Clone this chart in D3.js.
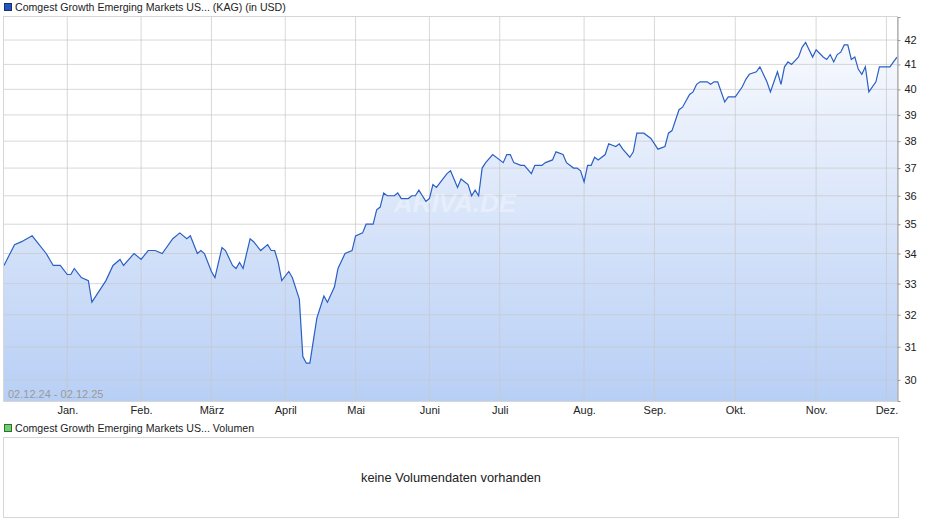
<!DOCTYPE html>
<html>
<head>
<meta charset="utf-8">
<script src="https://cdn.jsdelivr.net/npm/d3@7"></script>
<style>
  body { margin: 0; background: #fff; font-family: "Liberation Sans", Arial, sans-serif; }
  svg text { font-family: "Liberation Sans", Arial, sans-serif; }
</style>
</head>
<body>
<svg id="chart" width="940" height="526"></svg>
<script>
// trading-day index and price (USD)
const days = [0,3,5,8,12,14,16,18,19,20,22,24,25,29,31,33,34,37,39,41,43,45,48,50,52,53,55,56,57,59,60,62,63,65,66,67,68,70,71,73,75,76,77,78,79,81,82,84,85,86,87,88,89,91,92,94,95,97,99,100,102,103,105,106,107,108,109,111,112,113,115,116,117,118,120,121,122,123,126,127,128,129,130,132,133,134,135,136,137,139,142,143,144,145,147,148,150,151,152,153,154,156,157,159,160,162,163,164,165,166,167,168,169,171,172,174,175,176,178,179,180,181,182,184,186,188,189,190,192,193,195,196,197,198,200,201,202,203,205,206,208,210,211,212,214,215,216,217,218,219,220,221,222,223,224,226,227,228,230,231,233,234,235,236,237,238,239,240,241,242,243,244,245,246,248,249,252,253,254];
const prices = [33.6,34.3,34.4,34.6,34.0,33.6,33.6,33.3,33.3,33.5,33.2,33.1,32.4,33.1,33.6,33.8,33.6,34.0,33.8,34.1,34.1,34.0,34.5,34.7,34.5,34.6,34.0,34.1,34.0,33.4,33.2,34.2,34.1,33.6,33.5,33.7,33.5,34.5,34.4,34.1,34.3,34.1,34.1,33.7,33.1,33.4,33.2,32.5,30.7,30.5,30.5,31.2,31.9,32.6,32.4,32.9,33.5,34.0,34.1,34.6,34.7,35.0,35.0,35.5,35.6,36.1,36.0,36.0,36.1,35.9,35.9,36.0,36.0,36.2,35.8,35.9,36.4,36.3,36.8,36.9,36.6,36.3,36.6,36.4,36.0,36.2,36.0,37.0,37.2,37.5,37.2,37.5,37.5,37.2,37.1,37.1,36.8,37.1,37.1,37.1,37.2,37.3,37.6,37.5,37.2,37.0,37.0,36.9,36.5,37.1,37.1,37.4,37.3,37.5,37.9,37.8,37.9,37.7,37.4,37.6,38.3,38.3,38.3,38.1,37.7,37.8,38.3,38.4,39.2,39.3,39.8,39.9,40.2,40.3,40.3,40.2,40.3,40.3,39.5,39.7,39.7,40.1,40.4,40.6,40.7,40.9,40.6,40.3,39.9,40.3,40.7,40.2,40.9,41.1,41.0,41.3,41.7,41.9,41.3,41.6,41.3,41.2,41.4,41.1,41.4,41.5,41.8,41.8,41.2,41.3,40.8,40.6,40.9,39.9,40.3,40.9,40.9,41.1,41.3];
const yTicks = [30,31,32,33,34,35,36,37,38,39,40,41,42];
const monthLabels = ["Jan.","Feb.","März","April","Mai","Juni","Juli","Aug.","Sep.","Okt.","Nov.","Dez."];
const monthDays = [18,39,59,80,100,121,141,165,185,208,231,251];

const svg = d3.select("#chart");
const pLeft = 4, pRight = 897, pTop = 17, pBottom = 401;

const x = d3.scaleLinear().domain([0, 254]).range([pLeft, pRight]);
const y = d3.scaleLog().domain([29.38, 42.97]).range([pBottom, pTop]);

const n = Math.min(days.length, prices.length);
const data = days.slice(0, n).map((d, i) => ({ d: d, v: prices[i] }));

// gradient for area
const grad = svg.append("defs").append("linearGradient")
    .attr("id", "fill").attr("x1", 0).attr("y1", 0).attr("x2", 0).attr("y2", 1);
grad.append("stop").attr("offset", "0%").attr("stop-color", "#f7f9fe");
grad.append("stop").attr("offset", "100%").attr("stop-color", "#b8cff5");

// legend
svg.append("rect").attr("x", 4.5).attr("y", 3.5).attr("width", 7).attr("height", 7)
    .attr("fill", "#1f56c4").attr("stroke", "#1a2f66");
svg.append("text").attr("x", 15).attr("y", 11).attr("font-size", 10.6).attr("fill", "#222")
    .text("Comgest Growth Emerging Markets US... (KAG) (in USD)");

// area
const area = d3.area().x(d => x(d.d)).y0(pBottom).y1(d => y(d.v));
svg.append("path").datum(data).attr("d", area).attr("fill", "url(#fill)");

// grid
svg.append("g").selectAll("line").data(yTicks).join("line")
    .attr("x1", pLeft).attr("x2", pRight).attr("y1", d => y(d)).attr("y2", d => y(d))
    .attr("stroke", "#c8c8c8").attr("stroke-opacity", 0.7);
svg.append("g").selectAll("line").data(monthDays).join("line")
    .attr("x1", d => x(d)).attr("x2", d => x(d)).attr("y1", pTop).attr("y2", pBottom)
    .attr("stroke", "#c8c8c8").attr("stroke-opacity", 0.7);

// watermark
svg.append("text").attr("x", 455).attr("y", 212).attr("text-anchor", "middle")
    .attr("font-size", 26).attr("font-weight", "bold").attr("font-style", "italic")
    .attr("fill", "#ffffff").attr("fill-opacity", 0.35).text("ARIVA.DE");

const line = d3.line().x(d => x(d.d)).y(d => y(d.v));
svg.append("path").datum(data).attr("d", line).attr("fill", "none")
    .attr("stroke", "#2a5fc4").attr("stroke-width", 1.2);

// frame
svg.append("rect").attr("x", pLeft - 0.5).attr("y", pTop - 0.5)
    .attr("width", pRight - pLeft + 1).attr("height", pBottom - pTop + 1)
    .attr("fill", "none").attr("stroke", "#d6d6d6");

// y axis on the right
const yAxis = svg.append("g").attr("transform", `translate(${pRight + 0.5},0)`)
    .call(d3.axisRight(y).tickValues(yTicks).tickFormat(d3.format("d")).tickSize(3).tickPadding(4));
yAxis.select(".domain").attr("stroke", "#999");
yAxis.selectAll("line").attr("stroke", "#999");
yAxis.selectAll("text").attr("font-size", 11).attr("fill", "#222");

// x axis
const xAxis = svg.append("g").attr("transform", `translate(0,${pBottom})`)
    .call(d3.axisBottom(x).tickValues(monthDays).tickFormat((d, i) => monthLabels[i]).tickSize(0).tickPadding(5));
xAxis.select(".domain").remove();
xAxis.selectAll("text").attr("font-size", 11).attr("fill", "#222");

svg.append("text").attr("x", 8).attr("y", 398).attr("font-size", 11).attr("fill", "#9a9a9a")
    .text("02.12.24 - 02.12.25");

// volume panel
svg.append("rect").attr("x", 4.5).attr("y", 424.5).attr("width", 7).attr("height", 7)
    .attr("fill", "#6fcf6f").attr("stroke", "#2f6f2f");
svg.append("text").attr("x", 15).attr("y", 432).attr("font-size", 10.6).attr("fill", "#222")
    .text("Comgest Growth Emerging Markets US... Volumen");
svg.append("rect").attr("x", 3.5).attr("y", 437.5).attr("width", 895).attr("height", 80)
    .attr("fill", "none").attr("stroke", "#d6d6d6");
svg.append("text").attr("x", 451).attr("y", 482).attr("text-anchor", "middle")
    .attr("font-size", 12.8).attr("fill", "#222").text("keine Volumendaten vorhanden");
</script>
</body>
</html>
